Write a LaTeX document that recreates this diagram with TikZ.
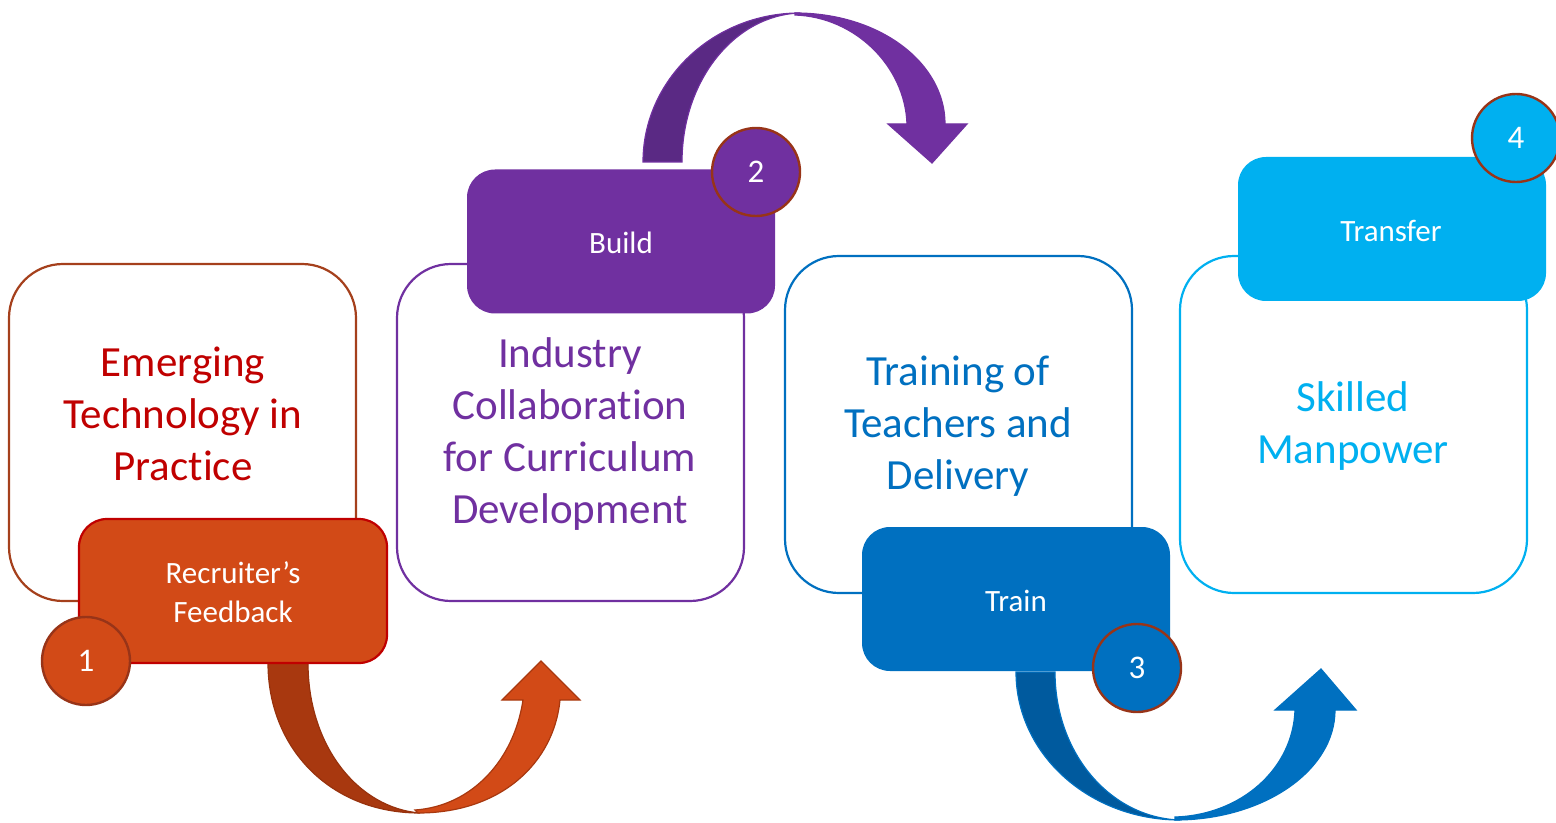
\documentclass[tikz,border=0pt]{standalone}
\usepackage{fontspec}
\setmainfont{Carlito}[Ligatures=NoCommon]
\definecolor{cRed}{HTML}{C00000}
\definecolor{cOrange}{HTML}{D24A17}
\definecolor{cOrangeDk}{HTML}{A8380F}
\definecolor{cOrangeLn}{HTML}{A5401C}
\definecolor{cBrown}{HTML}{983418}
\definecolor{cPurple}{HTML}{7030A0}
\definecolor{cPurpleDk}{HTML}{5A2984}
\definecolor{cBlue}{HTML}{0070C0}
\definecolor{cBlueDk}{HTML}{005A9E}
\definecolor{cCyan}{HTML}{00B0F0}
\tikzset{
  bigbox/.style={draw, fill=white, line width=1.1pt, rounded corners=27pt,
    minimum width=173.5pt, minimum height=168.5pt, inner sep=0pt, outer sep=0pt},
  tabbox/.style={rounded corners=14pt, minimum width=154pt, minimum height=72pt,
    inner sep=0pt, outer sep=0pt},
  numcirc/.style={circle, draw=cBrown, line width=1.2pt, minimum size=44pt,
    inner sep=0pt, text=white, font=\fontsize{16.5}{20}\selectfont},
  maintext/.style={align=center, font=\fontsize{21.5}{26}\selectfont},
  tabtext/.style={align=center, text=white, font=\fontsize{15.5}{19.5}\selectfont},
  arrback/.style={line width=0.6pt},
}
\begin{document}
\begin{tikzpicture}[x=0.5pt,y=-0.5pt]
\useasboundingbox (0,0) rectangle (1556,823);

% ---- arrows ----
% arrow 1 (orange)
\filldraw[fill=cOrangeDk, draw=cOrangeDk!90!black, arrback]
  (268,663) .. controls (268,748) and (330,813) .. (420,813)
  .. controls (358,808) and (308,746) .. (308,663) -- cycle;
\filldraw[fill=cOrange, draw=cOrangeDk, arrback]
  (418,813) .. controls (502,813) and (554,762) .. (560,700)
  -- (580,700) -- (541,661) -- (502,700) -- (523,700)
  .. controls (514,760) and (472,806) .. (415,810) -- cycle;
% arrow 2 (purple)
\filldraw[fill=cPurpleDk, draw=cPurple, arrback]
  (643,162) .. controls (643,80) and (713,13) .. (800,13)
  .. controls (735,15) and (682,80) .. (682,162) -- cycle;
\filldraw[fill=cPurple, draw=cPurple, arrback]
  (795,13) .. controls (880,13) and (945,63) .. (945,124)
  -- (967,124) -- (932,163) -- (888,124) -- (907,124)
  .. controls (905,66) and (855,17) .. (795,15) -- cycle;
% arrow 3 (blue)
\filldraw[fill=cBlueDk, draw=cBlue, arrback]
  (1016,672) .. controls (1016,754) and (1089,820) .. (1180,820)
  .. controls (1111,818) and (1055,754) .. (1055,672) -- cycle;
\filldraw[fill=cBlue, draw=cBlue, arrback]
  (1175,820) .. controls (1263,820) and (1335,771) .. (1335,710)
  -- (1356,710) -- (1321,669) -- (1275,710) -- (1295,710)
  .. controls (1293,769) and (1241,815) .. (1175,817) -- cycle;

% ---- big boxes ----
\node[bigbox, draw=cOrangeLn] (b1) at (182.5,432.5) {};
\node[bigbox, draw=cPurple] (b2) at (570.5,432.5) {};
\node[bigbox, draw=cBlue] (b3) at (958.5,424.5) {};
\node[bigbox, draw=cCyan] (b4) at (1353.5,424.5) {};

\node[maintext, text=cRed] (t1) at (183,414) {Emerging\\Technology in\\Practice};
\node[maintext, text=cPurple] (t2) at (570,434) {Industry\\Collaboration\\for Curriculum\\Development};
\node[maintext, text=cBlue] (t3) at (958,426) {Training of\\Teachers and\\Delivery};
\node[maintext, text=cCyan] (t4) at (1353,426) {Skilled\\Manpower};

% ---- tabs ----
\node[tabbox, fill=cOrange, draw=cRed, line width=1.1pt] (k1) at (233,591) {};
\node[tabbox, fill=cPurple] (k2) at (621,241.5) {};
\node[tabbox, fill=cBlue] (k3) at (1016,599) {};
\node[tabbox, fill=cCyan] (k4) at (1392,229) {};

\node[tabtext] (s1) at (233,592) {Recruiter’s\\Feedback};
\node[tabtext] (s2) at (621,243) {Build};
\node[tabtext] (s3) at (1016,601) {Train};
\node[tabtext] (s4) at (1391,231) {Transfer};

% ---- number circles ----
\node[numcirc, fill=cOrange] (n1) at (86,661) {1};
\node[numcirc, fill=cPurple] (n2) at (756,172) {2};
\node[numcirc, fill=cBlue] (n3) at (1137,668) {3};
\node[numcirc, fill=cCyan] (n4) at (1516,138) {4};
\end{tikzpicture}
\end{document}
